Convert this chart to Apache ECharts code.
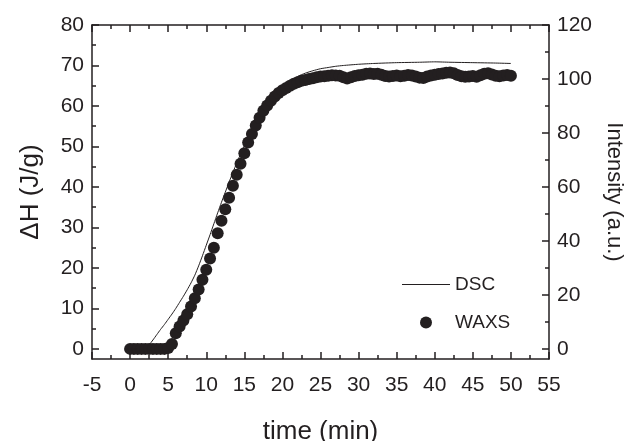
<!DOCTYPE html>
<html>
<head>
<meta charset="utf-8">
<script src="https://cdn.jsdelivr.net/npm/echarts@6/dist/echarts.min.js"></script>
<style>
html,body{margin:0;padding:0;background:#fff;}
#chart{width:626px;height:441px;}
</style>
</head>
<body>
<div id="chart"></div>
<script>
// ---- data ----
const xTickLabels = [-5, 0, 5, 10, 15, 20, 25, 30, 35, 40, 45, 50, 55];
const xMinorTicks = [-2.5, 2.5, 7.5, 12.5, 17.5, 22.5, 27.5, 32.5, 37.5, 42.5, 47.5, 52.5];
const leftTickLabels = [0, 10, 20, 30, 40, 50, 60, 70, 80];
const leftMinorTicks = [5, 15, 25, 35, 45, 55, 65, 75];
const rightTickLabels = [0, 20, 40, 60, 80, 100, 120];
const rightMinorTicks = [10, 30, 50, 70, 90, 110];

// DSC: enthalpy (J/g) vs time (min), left axis
const dscTime = [0, 1, 2, 2.5, 3, 3.5, 4, 4.5, 5, 5.5, 6, 6.5, 7, 7.5, 8, 8.5, 9, 9.5, 10, 10.5, 11, 11.5, 12, 12.5, 13, 13.5, 14, 14.5, 15, 15.5, 16, 16.5, 17, 17.5, 18, 18.5, 19, 19.5, 20, 20.5, 21, 22, 23, 24, 25, 26, 27, 28, 30, 32, 35, 38, 40, 42, 45, 48, 50];
const dscDeltaH = [0, 0, 0.3, 1.0, 2.2, 3.5, 4.8, 6.0, 7.3, 8.6, 10.0, 11.5, 13.0, 14.6, 16.3, 18.2, 20.5, 23.0, 25.6, 28.2, 30.9, 33.6, 36.2, 38.7, 41.2, 43.6, 45.9, 48.1, 50.2, 52.2, 54.1, 55.9, 57.6, 59.1, 60.5, 61.8, 63.0, 64.0, 64.9, 65.6, 66.2, 67.3, 68.1, 68.7, 69.2, 69.5, 69.8, 70.0, 70.3, 70.5, 70.7, 70.8, 70.9, 70.8, 70.7, 70.6, 70.5];

// WAXS: intensity (a.u.) vs time (min), right axis
const waxsTime = [0, 0.5, 1, 1.5, 2, 2.5, 3, 3.5, 4, 4.5, 5, 5.5, 6, 6.5, 7, 7.5, 8, 8.5, 9, 9.5, 10, 10.5, 11, 11.5, 12, 12.5, 13, 13.5, 14, 14.5, 15, 15.5, 16, 16.5, 17, 17.5, 18, 18.5, 19, 19.5, 20, 20.5, 21, 21.5, 22, 22.5, 23, 23.5, 24, 24.5, 25, 25.5, 26, 26.5, 27, 27.5, 28, 28.5, 29, 29.5, 30, 30.5, 31, 31.5, 32, 32.5, 33, 33.5, 34, 34.5, 35, 35.5, 36, 36.5, 37, 37.5, 38, 38.5, 39, 39.5, 40, 40.5, 41, 41.5, 42, 42.5, 43, 43.5, 44, 44.5, 45, 45.5, 46, 46.5, 47, 47.5, 48, 48.5, 49, 49.5, 50];
const waxsIntensity = [0, 0, 0, 0, 0, 0, 0, 0, 0, 0, 0.3, 1.8, 5.8, 8.3, 10.5, 12.8, 15.7, 18.8, 22.0, 25.6, 29.3, 33.5, 37.5, 42.8, 47.5, 51.7, 56.0, 60.4, 64.5, 68.6, 72.5, 76.5, 79.6, 82.8, 85.6, 88.2, 90.2, 91.9, 93.5, 94.8, 95.8, 96.7, 97.5, 98.2, 98.8, 99.3, 99.6, 100.0, 100.3, 100.6, 100.9, 101.0, 101.2, 101.4, 101.3, 101.2, 100.6, 100.2, 100.6, 101.1, 101.4, 101.6, 101.9, 102.0, 101.8, 101.9, 101.6, 101.1, 100.9, 101.1, 101.3, 101.0, 101.2, 101.5, 101.3, 100.9, 100.5, 100.4, 100.9, 101.3, 101.6, 101.8, 102.0, 102.3, 102.4, 102.1, 101.5, 101.0, 100.8, 100.9, 101.1, 100.8, 101.4, 101.9, 102.1, 101.7, 101.2, 101.0, 101.3, 101.5, 101.2];

// ---- chart ----
const INK = '#231f20';
const FONT = 'Liberation Sans, Arial, Helvetica, sans-serif';
const X_MIN = -5, X_MAX = 55;
const L_MIN = -2.5, L_MAX = 80;
const R_MIN = -3.75, R_MAX = 120;

const chart = echarts.init(document.getElementById('chart'), null, {renderer: 'canvas'});

function lineAxis(position, min, max, extra) {
  return Object.assign({
    type: 'value', position: position, min: min, max: max,
    splitLine: {show: false},
    axisLine: {show: true, onZero: false, lineStyle: {color: INK, width: 1.5}},
    axisTick: {show: false},
    axisLabel: {show: false}
  }, extra || {});
}
function tickAxis(position, min, max, values, len) {
  return {
    type: 'value', position: position, min: min, max: max,
    splitLine: {show: false},
    axisLine: {show: false, onZero: false},
    axisLabel: {show: false},
    axisTick: {show: true, inside: true, length: len, customValues: values,
      lineStyle: {color: INK, width: 1.5}}
  };
}

const option = {
  animation: false,
  backgroundColor: '#ffffff',
  textStyle: {fontFamily: FONT, color: INK},
  grid: {left: 92, right: 77, top: 25, bottom: 82, outerBoundsMode: 'none', containLabel: false},
  legend: {
    orient: 'vertical', left: 397, top: 270,
    itemWidth: 48, itemHeight: 12, itemGap: 19,
    textStyle: {fontFamily: FONT, fontSize: 19, color: INK},
    data: [
      {name: 'DSC', icon: 'path://M0,0 L48,0 L48,1 L0,1 Z', itemStyle: {color: INK}},
      {name: 'WAXS', icon: 'circle', itemStyle: {color: INK}}
    ]
  },
  xAxis: [
    lineAxis('bottom', X_MIN, X_MAX, {
      name: 'time (min)', nameLocation: 'middle', nameGap: 60,
      nameTextStyle: {fontFamily: FONT, fontSize: 26, color: INK},
      axisLabel: {show: true, margin: 16, fontFamily: FONT, fontSize: 21, color: INK,
        customValues: xTickLabels}
    }),
    lineAxis('top', X_MIN, X_MAX),
    tickAxis('bottom', X_MIN, X_MAX, xTickLabels, 7),
    tickAxis('bottom', X_MIN, X_MAX, xMinorTicks, 4),
    tickAxis('top', X_MIN, X_MAX, xTickLabels, 7),
    tickAxis('top', X_MIN, X_MAX, xMinorTicks, 4)
  ],
  yAxis: [
    lineAxis('left', L_MIN, L_MAX, {
      axisLabel: {show: true, margin: 8, fontFamily: FONT, fontSize: 21, color: INK, customValues: leftTickLabels},
      name: 'ΔH (J/g)', nameLocation: 'middle', nameGap: 48,
      nameTextStyle: {fontFamily: FONT, fontSize: 26, color: INK}
    }),
    tickAxis('left', L_MIN, L_MAX, leftTickLabels, 7),
    tickAxis('left', L_MIN, L_MAX, leftMinorTicks, 4),
    lineAxis('right', R_MIN, R_MAX, {
      axisLabel: {show: true, margin: 8, fontFamily: FONT, fontSize: 21, color: INK, customValues: rightTickLabels},
      name: 'Intensity (a.u.)', nameLocation: 'middle', nameGap: 41, nameRotate: -90,
      nameTextStyle: {fontFamily: FONT, fontSize: 22, color: INK}
    }),
    tickAxis('right', R_MIN, R_MAX, rightTickLabels, 7),
    tickAxis('right', R_MIN, R_MAX, rightMinorTicks, 4)
  ],
  series: [
    {
      name: 'WAXS', type: 'scatter', xAxisIndex: 0, yAxisIndex: 3,
      symbol: 'circle', symbolSize: 12,
      itemStyle: {color: INK, opacity: 1},
      data: waxsTime.map((t, i) => [t, waxsIntensity[i]]),
      z: 2
    },
    {
      name: 'DSC', type: 'line', xAxisIndex: 0, yAxisIndex: 0,
      symbol: 'none', showSymbol: false, smooth: 0.2,
      lineStyle: {color: INK, width: 1},
      itemStyle: {color: INK},
      data: dscTime.map((t, i) => [t, dscDeltaH[i]]),
      z: 3
    }
  ]
};
chart.setOption(option);
</script>
</body>
</html>
